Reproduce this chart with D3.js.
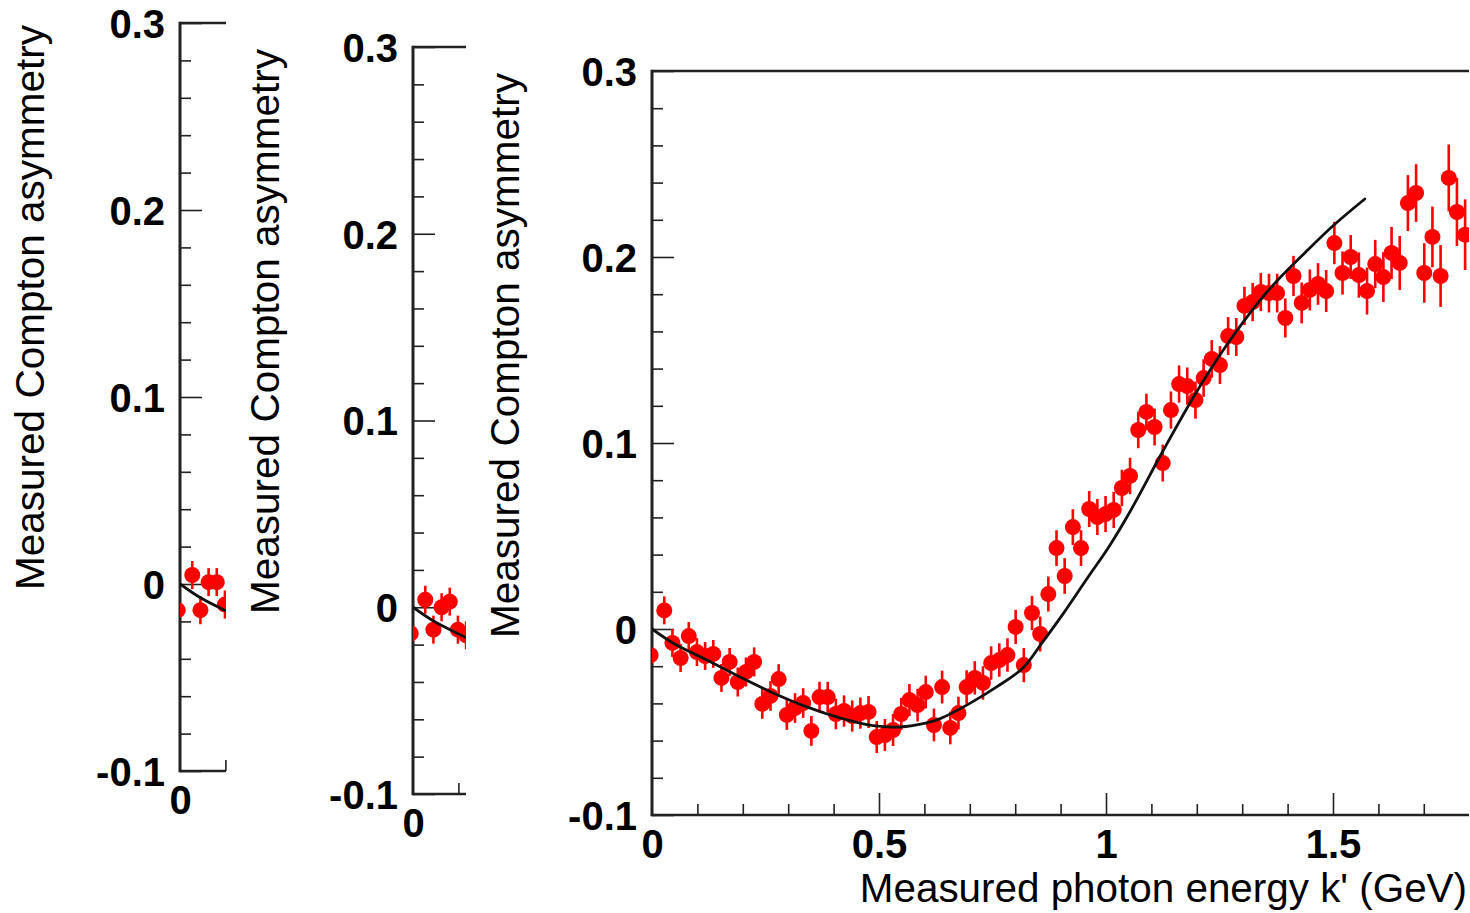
<!DOCTYPE html>
<html>
<head>
<meta charset="utf-8">
<script src="https://cdn.jsdelivr.net/npm/d3@7"></script>
<style>
  html, body { margin: 0; padding: 0; background: #ffffff; }
  svg { display: block; }
  text { font-family: "Liberation Sans", Arial, Helvetica, sans-serif; fill: #000; }
</style>
</head>
<body>
<svg id="chart" width="1470" height="913"></svg>
<script>
// ---------------- DATA ----------------
const yTickValues = [-0.1, 0, 0.1, 0.2, 0.3];
const xTickValuesMain = [0, 0.5, 1, 1.5];
const xTickValuesSmall = [0];
const yTitle = "Measured Compton asymmetry";
const xTitle = "Measured photon energy k' (GeV)";

// main panel: photon energy k' (GeV) bin centres
const mainEnergy = [
  -0.003, 0.027, 0.045, 0.063, 0.081, 0.099, 0.117, 0.135, 0.153, 0.171,
  0.189, 0.207, 0.225, 0.243, 0.261, 0.279, 0.297, 0.315, 0.333, 0.351,
  0.369, 0.387, 0.405, 0.423, 0.441, 0.459, 0.477, 0.495, 0.513, 0.531,
  0.549, 0.567, 0.585, 0.603, 0.621, 0.639, 0.657, 0.675, 0.693, 0.711,
  0.729, 0.747, 0.765, 0.783, 0.801, 0.819, 0.837, 0.855, 0.873, 0.891,
  0.909, 0.927, 0.945, 0.963, 0.981, 0.999, 1.017, 1.035, 1.053, 1.071,
  1.089, 1.107, 1.125, 1.143, 1.161, 1.179, 1.197, 1.215, 1.233, 1.251,
  1.269, 1.287, 1.305, 1.323, 1.341, 1.359, 1.377, 1.395, 1.413, 1.431,
  1.449, 1.467, 1.485, 1.503, 1.521, 1.539, 1.557, 1.575, 1.593, 1.611,
  1.629, 1.647, 1.665, 1.683, 1.701, 1.719, 1.737, 1.755, 1.773, 1.791
];
// measured Compton asymmetry
const mainAsym = [
  -0.0140, 0.0100, -0.0075, -0.0156, -0.0038, -0.0124, -0.0145, -0.0134, -0.0263, -0.0177,
  -0.0285, -0.0231, -0.0177, -0.0403, -0.0360, -0.0269, -0.0462, -0.0425, -0.0398, -0.0548,
  -0.0366, -0.0366, -0.0457, -0.0441, -0.0468, -0.0452, -0.0446, -0.0581, -0.0570, -0.0543,
  -0.0457, -0.0382, -0.0409, -0.0339, -0.0516, -0.0312, -0.0532, -0.0452, -0.0312, -0.0263,
  -0.0290, -0.0183, -0.0167, -0.0140, 0.0011, -0.0194, 0.0086, -0.0027, 0.0188, 0.0435,
  0.0285, 0.0548, 0.0435, 0.0645, 0.0602, 0.0618, 0.0640, 0.0758, 0.0823, 0.1070,
  0.1167, 0.1086, 0.0892, 0.1177, 0.1317, 0.1306, 0.1231, 0.1349, 0.1452, 0.1419,
  0.1575, 0.1570, 0.1737, 0.1758, 0.1812, 0.1806, 0.1806, 0.1672, 0.1898, 0.1753,
  0.1823, 0.1855, 0.1817, 0.2075, 0.1914, 0.2000, 0.1903, 0.1817, 0.1962, 0.1892,
  0.2022, 0.1968, 0.2290, 0.2344, 0.1914, 0.2108, 0.1898, 0.2425, 0.2242, 0.2120
];
// statistical errors
const mainErr = [
  0.0080, 0.0075, 0.0075, 0.0075, 0.0075, 0.0075, 0.0075, 0.0075, 0.0075, 0.0075,
  0.0078, 0.0078, 0.0078, 0.0080, 0.0080, 0.0080, 0.0080, 0.0080, 0.0080, 0.0080,
  0.0082, 0.0082, 0.0082, 0.0084, 0.0084, 0.0084, 0.0086, 0.0086, 0.0086, 0.0086,
  0.0086, 0.0086, 0.0088, 0.0088, 0.0088, 0.0088, 0.0088, 0.0088, 0.0090, 0.0090,
  0.0090, 0.0090, 0.0090, 0.0090, 0.0092, 0.0092, 0.0092, 0.0094, 0.0094, 0.0096,
  0.0096, 0.0096, 0.0096, 0.0097, 0.0097, 0.0097, 0.0097, 0.0098, 0.0098, 0.0098,
  0.0098, 0.0099, 0.0099, 0.0100, 0.0100, 0.0100, 0.0100, 0.0101, 0.0101, 0.0102,
  0.0102, 0.0102, 0.0103, 0.0103, 0.0103, 0.0104, 0.0104, 0.0105, 0.0108, 0.0110,
  0.0110, 0.0112, 0.0113, 0.0114, 0.0116, 0.0118, 0.0122, 0.0126, 0.0130, 0.0134,
  0.0140, 0.0145, 0.0150, 0.0155, 0.0160, 0.0163, 0.0166, 0.0180, 0.0183, 0.0190
];

// theory curve
const curveEnergy = [0, 0.046, 0.121, 0.194, 0.267, 0.341, 0.414, 0.487, 0.546, 0.605,
  0.635, 0.700, 0.760, 0.817, 0.859, 0.905, 0.958, 1.009, 1.055, 1.123,
  1.198, 1.264, 1.336, 1.376, 1.442, 1.502, 1.570];
const curveAsym = [0, -0.0075, -0.0167, -0.0258, -0.0344, -0.0419, -0.0478, -0.0520, -0.0527, -0.0505,
  -0.0482, -0.0400, -0.0310, -0.0210, -0.0075, 0.0080, 0.0270, 0.0452, 0.0640, 0.0946,
  0.1269, 0.1520, 0.1758, 0.1870, 0.2032, 0.2172, 0.2312];

// small panel 1
const p1Energy = [-0.005, 0.027, 0.045, 0.063, 0.081, 0.099];
const p1Asym   = [-0.014, 0.0048, -0.014, 0.001, 0.001, -0.011];
const p1Err    = [0.0075, 0.0075, 0.0075, 0.0075, 0.0075, 0.0075];
// small panel 2
const p2Energy = [-0.005, 0.027, 0.045, 0.063, 0.081, 0.099, 0.117];
const p2Asym   = [-0.014, 0.004, -0.012, 0.0, 0.003, -0.012, -0.015];
const p2Err    = [0.0075, 0.0075, 0.0075, 0.0075, 0.0075, 0.0075, 0.0075];

// ---------------- LAYOUT ----------------
const pxPerGeV = 454;
const panels = [
  { id: "p1", left: 180, top: 23, bottom: 771, width: 46, titleX: 44,
    energy: p1Energy, asym: p1Asym, err: p1Err, xLabels: xTickValuesSmall, showXTitle: false },
  { id: "p2", left: 413, top: 47, bottom: 794, width: 53, titleX: 279,
    energy: p2Energy, asym: p2Asym, err: p2Err, xLabels: xTickValuesSmall, showXTitle: false },
  { id: "p3", left: 652, top: 71, bottom: 815, width: 817, titleX: 519,
    energy: mainEnergy, asym: mainAsym, err: mainErr, xLabels: xTickValuesMain, showXTitle: true }
];

const svg = d3.select("#chart");
const defs = svg.append("defs");
const axisColor = "#222";
const fmt = d => String(d);

panels.forEach(p => {
  const x = d3.scaleLinear().domain([0, p.width / pxPerGeV]).range([p.left, p.left + p.width]);
  const y = d3.scaleLinear().domain([-0.1, 0.3]).range([p.bottom, p.top]);
  const right = p.left + p.width;

  defs.append("clipPath").attr("id", "clip-" + p.id)
    .append("rect")
    .attr("x", p.left).attr("y", p.top)
    .attr("width", p.width).attr("height", p.bottom - p.top);

  const g = svg.append("g");

  // --- y minor ticks ---
  const yMinor = y.ticks(20).filter(v => !yTickValues.some(t => Math.abs(t - v) < 1e-9));
  g.append("g").attr("transform", `translate(${p.left},0)`)
    .call(d3.axisRight(y).tickValues(yMinor).tickSize(11).tickFormat("").tickSizeOuter(0))
    .call(s => s.select(".domain").remove())
    .call(s => s.selectAll("line").attr("stroke", axisColor).attr("stroke-width", 1.6));
  // --- y major ticks ---
  g.append("g").attr("transform", `translate(${p.left},0)`)
    .call(d3.axisRight(y).tickValues(yTickValues).tickSize(22).tickFormat("").tickSizeOuter(0))
    .call(s => s.select(".domain").remove())
    .call(s => s.selectAll("line").attr("stroke", axisColor).attr("stroke-width", 1.6));
  // --- y labels ---
  g.append("g").attr("transform", `translate(${p.left},0)`)
    .call(d3.axisLeft(y).tickValues(yTickValues).tickSize(0).tickPadding(15).tickFormat(fmt))
    .call(s => s.select(".domain").remove())
    .call(s => s.selectAll("text")
      .attr("font-family", "'Liberation Sans', Arial, sans-serif")
      .attr("font-size", 40).attr("font-weight", "bold").attr("fill", "#000")
      .attr("dy", "0.36em"));

  // --- x ticks (minor 0.1, major 0.5) ---
  const xAll = d3.ticks(0, 1.8, 18).filter(v => v > 1e-9 && v <= x.domain()[1] + 1e-6);
  const xMajor = xAll.filter(v => Math.abs(v * 2 - Math.round(v * 2)) < 1e-9);
  const xMinor = xAll.filter(v => !xMajor.includes(v));
  g.append("g").attr("transform", `translate(0,${p.bottom})`)
    .call(d3.axisTop(x).tickValues(xMinor).tickSize(11).tickFormat("").tickSizeOuter(0))
    .call(s => s.select(".domain").remove())
    .call(s => s.selectAll("line").attr("stroke", axisColor).attr("stroke-width", 1.6));
  g.append("g").attr("transform", `translate(0,${p.bottom})`)
    .call(d3.axisTop(x).tickValues(xMajor).tickSize(22).tickFormat("").tickSizeOuter(0))
    .call(s => s.select(".domain").remove())
    .call(s => s.selectAll("line").attr("stroke", axisColor).attr("stroke-width", 1.6));
  // x labels
  g.append("g").attr("transform", `translate(0,${p.bottom})`)
    .call(d3.axisBottom(x).tickValues(p.xLabels).tickSize(0).tickPadding(14).tickFormat(fmt))
    .call(s => s.select(".domain").remove())
    .call(s => s.selectAll("text")
      .attr("font-family", "'Liberation Sans', Arial, sans-serif")
      .attr("font-size", 40).attr("font-weight", "bold").attr("fill", "#000")
      .attr("dy", "0.72em"));

  // --- frame lines: left, top, bottom ---
  g.append("line").attr("x1", p.left).attr("x2", p.left).attr("y1", p.top - 1.2).attr("y2", p.bottom + 1.2)
    .attr("stroke", axisColor).attr("stroke-width", 3);
  g.append("line").attr("x1", p.left).attr("x2", right).attr("y1", p.top).attr("y2", p.top)
    .attr("stroke", axisColor).attr("stroke-width", 2.6);
  g.append("line").attr("x1", p.left).attr("x2", right).attr("y1", p.bottom).attr("y2", p.bottom)
    .attr("stroke", axisColor).attr("stroke-width", 2.6);

  // --- y title ---
  svg.append("text")
    .attr("transform", `translate(${p.titleX},${p.top + 2}) rotate(-90)`)
    .attr("text-anchor", "end")
    .attr("font-size", 40.5)
    .text(yTitle);

  // --- data ---
  const plot = svg.append("g").attr("clip-path", `url(#clip-${p.id})`);
  const pts = p.energy.map((k, i) => ({ k, a: p.asym[i], e: p.err[i] }));

  plot.selectAll("line.err").data(pts).enter().append("line")
    .attr("class", "err")
    .attr("x1", d => x(d.k)).attr("x2", d => x(d.k))
    .attr("y1", d => y(d.a - d.e)).attr("y2", d => y(d.a + d.e))
    .attr("stroke", "#ff0000").attr("stroke-width", 2.6);
  plot.selectAll("circle").data(pts).enter().append("circle")
    .attr("cx", d => x(d.k)).attr("cy", d => y(d.a)).attr("r", 8)
    .attr("fill", "#ff0000");

  const curve = curveEnergy.map((k, i) => [k, curveAsym[i]]);
  plot.append("path")
    .attr("d", d3.line().x(d => x(d[0])).y(d => y(d[1])).curve(d3.curveCatmullRom.alpha(0.5))(curve))
    .attr("fill", "none").attr("stroke", "#111").attr("stroke-width", 2.8)
    .attr("stroke-linecap", "round");

  if (p.showXTitle) {
    svg.append("text")
      .attr("x", right - 2).attr("y", 902)
      .attr("text-anchor", "end")
      .attr("font-size", 40.4)
      .text(xTitle);
  }
});
</script>
</body>
</html>
